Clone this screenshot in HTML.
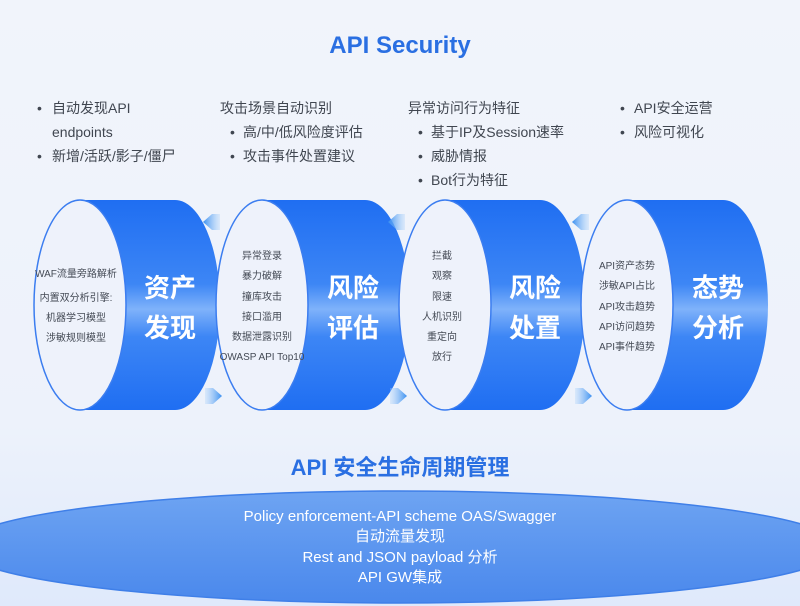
<!DOCTYPE html>
<html><head><meta charset="utf-8"><style>
html,body{margin:0;padding:0;width:800px;height:606px;overflow:hidden;background:#eef2fa}
svg text{font-family:"Liberation Sans","Noto Sans CJK SC",sans-serif}
</style></head><body>
<svg width="800" height="606" viewBox="0 0 800 606" xmlns="http://www.w3.org/2000/svg">
<defs>
<linearGradient id="bg" x1="0" y1="0" x2="0" y2="1">
<stop offset="0" stop-color="#f1f4fb"/><stop offset="0.7" stop-color="#edf2fb"/><stop offset="1" stop-color="#dfe9fb"/>
</linearGradient>
<linearGradient id="cyl" x1="0" y1="0" x2="0" y2="1">
<stop offset="0" stop-color="#1f6ef2"/><stop offset="0.4" stop-color="#3d86f5"/><stop offset="0.52" stop-color="#7fb2fa"/><stop offset="0.65" stop-color="#3d86f5"/><stop offset="1" stop-color="#1f6ef2"/>
</linearGradient>
<linearGradient id="base" x1="0" y1="0" x2="0" y2="1">
<stop offset="0" stop-color="#6ea4f2"/><stop offset="1" stop-color="#4a88ec"/>
</linearGradient>
<linearGradient id="arr" x1="0" y1="0" x2="1" y2="0">
<stop offset="0" stop-color="#3a8ff0"/><stop offset="1" stop-color="#a9d0fa" stop-opacity="0.3"/>
</linearGradient>
<linearGradient id="arrR" x1="1" y1="0" x2="0" y2="0">
<stop offset="0" stop-color="#3a8ff0"/><stop offset="1" stop-color="#a9d0fa" stop-opacity="0.3"/>
</linearGradient>
</defs>
<rect width="800" height="606" fill="url(#bg)"/>
<text x="400" y="53" text-anchor="middle" font-size="24" font-weight="bold" fill="#2a6fe2">API Security</text>

<g font-size="14" fill="#404650">
<text x="37" y="113">•</text><text x="52" y="113">自动发现API</text>
<text x="52" y="137">endpoints</text>
<text x="37" y="161">•</text><text x="52" y="161">新增/活跃/影子/僵尸</text>
<text x="220" y="113">攻击场景自动识别</text>
<text x="230" y="137">•</text><text x="243" y="137">高/中/低风险度评估</text>
<text x="230" y="161">•</text><text x="243" y="161">攻击事件处置建议</text>
<text x="408" y="113">异常访问行为特征</text>
<text x="418" y="137">•</text><text x="431" y="137">基于IP及Session速率</text>
<text x="418" y="161">•</text><text x="431" y="161">威胁情报</text>
<text x="418" y="185">•</text><text x="431" y="185">Bot行为特征</text>
<text x="620" y="113">•</text><text x="634" y="113">API安全运营</text>
<text x="620" y="137">•</text><text x="634" y="137">风险可视化</text>
</g>

<!-- cylinders: body then ellipse -->
<g stroke="#3b7df0" stroke-width="1.5">
<path d="M80 200 H175 A45 105 0 0 1 175 410 H80 Z" fill="url(#cyl)" stroke="none"/>
<ellipse cx="80" cy="305" rx="46" ry="105" fill="#eef2fb"/>
<path d="M262 200 H365 A45 105 0 0 1 365 410 H262 Z" fill="url(#cyl)" stroke="none"/>
<ellipse cx="262" cy="305" rx="46" ry="105" fill="#eef2fb"/>
<path d="M445 200 H540 A45 105 0 0 1 540 410 H445 Z" fill="url(#cyl)" stroke="none"/>
<ellipse cx="445" cy="305" rx="46" ry="105" fill="#eef2fb"/>
<path d="M627 200 H723 A45 105 0 0 1 723 410 H627 Z" fill="url(#cyl)" stroke="none"/>
<ellipse cx="627" cy="305" rx="46" ry="105" fill="#eef2fb"/>
</g>

<!-- arrows -->
<g>
<path d="M203 222 L212 214 L220 214 L220 230 L212 230 Z" fill="url(#arr)"/>
<path d="M388 222 L397 214 L405 214 L405 230 L397 230 Z" fill="url(#arr)"/>
<path d="M572 222 L581 214 L589 214 L589 230 L581 230 Z" fill="url(#arr)"/>
<path d="M222 396 L213 388 L205 388 L205 404 L213 404 Z" fill="url(#arrR)"/>
<path d="M407 396 L398 388 L390 388 L390 404 L398 404 Z" fill="url(#arrR)"/>
<path d="M592 396 L583 388 L575 388 L575 404 L583 404 Z" fill="url(#arrR)"/>
</g>

<g font-size="26" font-weight="bold" fill="#fff" text-anchor="middle">
<text x="170" y="297">资产</text><text x="170" y="337">发现</text>
<text x="353" y="297">风险</text><text x="353" y="337">评估</text>
<text x="535" y="297">风险</text><text x="535" y="337">处置</text>
<text x="718" y="297">态势</text><text x="718" y="337">分析</text>
</g>

<g font-size="10" fill="#444a55" text-anchor="middle">
<text x="76" y="277">WAF流量旁路解析</text>
<text x="76" y="301">内置双分析引擎:</text>
<text x="76" y="321">机器学习模型</text>
<text x="76" y="341">涉敏规则模型</text>
<text x="262" y="259">异常登录</text>
<text x="262" y="279">暴力破解</text>
<text x="262" y="300">撞库攻击</text>
<text x="262" y="320">接口滥用</text>
<text x="262" y="340">数据泄露识别</text>
<text x="262" y="360">OWASP API Top10</text>
<text x="442" y="259">拦截</text>
<text x="442" y="279">观察</text>
<text x="442" y="300">限速</text>
<text x="442" y="320">人机识别</text>
<text x="442" y="340">重定向</text>
<text x="442" y="360">放行</text>
<text x="627" y="269">API资产态势</text>
<text x="627" y="289">涉敏API占比</text>
<text x="627" y="310">API攻击趋势</text>
<text x="627" y="330">API访问趋势</text>
<text x="627" y="350">API事件趋势</text>
</g>

<text x="400" y="475" text-anchor="middle" font-size="22" font-weight="bold" fill="#2a6fe2">API 安全生命周期管理</text>
<ellipse cx="400" cy="547" rx="440" ry="56" fill="url(#base)" stroke="#3f7fe8" stroke-width="1.5"/>
<g font-size="15" fill="#fff" text-anchor="middle">
<text x="400" y="521">Policy enforcement-API scheme OAS/Swagger</text>
<text x="400" y="541">自动流量发现</text>
<text x="400" y="562">Rest and JSON payload 分析</text>
<text x="400" y="582">API GW集成</text>
</g>
</svg>
</body></html>
